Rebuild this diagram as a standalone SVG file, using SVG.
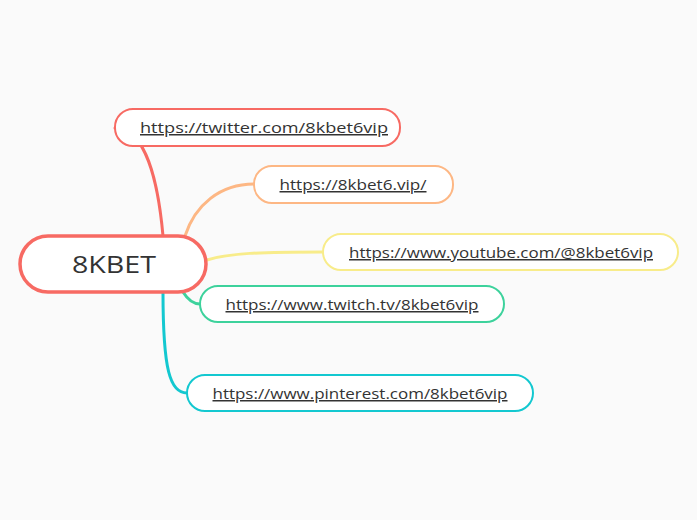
<svg xmlns="http://www.w3.org/2000/svg" width="697" height="520" viewBox="0 0 697 520">
<style>
.n{fill:#fff;stroke-width:2}
.t{font-family:"Open Sans",Lato,sans-serif;font-size:15px;fill:#333;text-decoration:underline;text-anchor:middle}
.c{fill:none;stroke-width:3;stroke-linecap:round}
</style>
<rect width="697" height="520" fill="#fafafa"/>
<g id="connectors">
<path class="c" stroke="#f76a63" d="M163,236 C158,180 145,128 115,128"/>
<path class="c" stroke="#fdb784" d="M185,236 C195,205 220,184 254,184"/>
<path class="c" stroke="#f8ec8a" d="M207,260 C230,253 260,252 323,252"/>
<path class="c" stroke="#3dd29c" d="M183,292 C188,300 193,304 200,304"/>
<path class="c" stroke="#13c8d0" d="M163,292 C163,370 170,393 187,393"/>
</g>
<g id="root">
<rect x="20" y="236" width="186" height="56" rx="28" fill="#fff" stroke="#f76a63" stroke-width="3.5"/>
<text x="114" y="273" font-family="'Open Sans',Lato,sans-serif" font-size="24" fill="#333" text-anchor="middle" textLength="84" lengthAdjust="spacingAndGlyphs">8KBET</text>
</g>
<g id="twitter">
<rect class="n" x="115" y="109" width="285" height="37" rx="18" stroke="#f76a63"/>
<text class="t" x="264" y="133" textLength="248" lengthAdjust="spacingAndGlyphs">https://twitter.com/8kbet6vip</text>
</g>
<g id="site">
<rect class="n" x="254" y="166" width="199" height="37" rx="18" stroke="#fdb784"/>
<text class="t" x="353" y="190" textLength="147" lengthAdjust="spacingAndGlyphs">https://8kbet6.vip/</text>
</g>
<g id="youtube">
<rect class="n" x="323" y="234" width="355" height="36" rx="18" stroke="#f8ec8a"/>
<text class="t" x="501" y="258" textLength="304" lengthAdjust="spacingAndGlyphs">https://www.youtube.com/@8kbet6vip</text>
</g>
<g id="twitch">
<rect class="n" x="200" y="286" width="304" height="36" rx="18" stroke="#3dd29c"/>
<text class="t" x="352" y="310" textLength="253" lengthAdjust="spacingAndGlyphs">https://www.twitch.tv/8kbet6vip</text>
</g>
<g id="pinterest">
<rect class="n" x="187" y="375" width="346" height="36" rx="18" stroke="#13c8d0"/>
<text class="t" x="360" y="399" textLength="295" lengthAdjust="spacingAndGlyphs">https://www.pinterest.com/8kbet6vip</text>
</g>
</svg>
